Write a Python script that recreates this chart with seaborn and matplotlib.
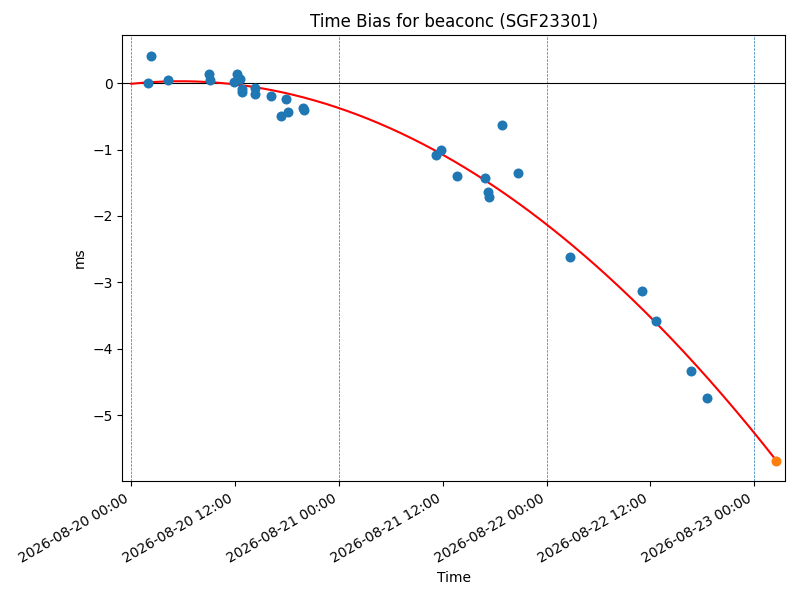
import numpy as np
import pandas as pd
import matplotlib
matplotlib.use("Agg")
import matplotlib.pyplot as plt
import matplotlib.dates as mdates
import seaborn as sns

start = "2026-08-20 00:00"
hours = [1.93, 2.28, 4.24, 8.98, 9.09, 11.86, 12.25, 12.53, 12.76, 12.83,
         14.29, 14.33, 16.18, 17.30, 17.88, 18.14, 19.84, 19.96,
         35.21, 35.79, 37.64, 40.87, 41.22, 41.33, 42.84, 44.69,
         50.70, 59.02, 60.64, 64.68, 66.53]
bias_ms = [0.0, 0.41, 0.05, 0.14, 0.05, 0.015, 0.14, 0.065, -0.086, -0.136,
           -0.066, -0.157, -0.187, -0.488, -0.241, -0.437, -0.38, -0.40,
           -1.08, -1.005, -1.395, -1.426, -1.64, -1.71, -0.63, -1.35,
           -2.62, -3.13, -3.58, -4.33, -4.74]
pred_hours = [74.50]
pred_ms = [-5.69]
day_lines = ["2026-08-20", "2026-08-21", "2026-08-22", "2026-08-23"]

t0 = pd.Timestamp(start)
df = pd.DataFrame({"time": t0 + pd.to_timedelta(hours, unit="h"), "ms": bias_ms})
dfp = pd.DataFrame({"time": t0 + pd.to_timedelta(pred_hours, unit="h"), "ms": pred_ms})

coef = np.polyfit(hours, bias_ms, 2)
fit_h = np.linspace(0, pred_hours[0], 300)
fit_df = pd.DataFrame({"time": t0 + pd.to_timedelta(fit_h, unit="h"),
                       "ms": np.polyval(coef, fit_h)})

fig, ax = plt.subplots(figsize=(8, 6), dpi=100)
for d in day_lines:
    ax.axvline(pd.Timestamp(d), color="C0", linestyle="--", linewidth=0.5)
ax.axhline(0, color="black", linewidth=0.8)
sns.lineplot(data=fit_df, x="time", y="ms", color="red", linewidth=1.5, ax=ax)
sns.scatterplot(data=df, x="time", y="ms", color="C0", s=52, linewidth=0, ax=ax, zorder=3)
sns.scatterplot(data=dfp, x="time", y="ms", color="C1", s=52, linewidth=0, ax=ax, zorder=3)

ax.set_xlim(t0 - pd.Timedelta(hours=1.04), t0 + pd.Timedelta(hours=75.58))
ax.set_ylim(-5.995, 0.725)
ax.xaxis.set_major_locator(mdates.HourLocator(byhour=[0, 12]))
ax.xaxis.set_major_formatter(mdates.DateFormatter("%Y-%m-%d %H:%M"))
ax.set_title("Time Bias for beaconc (SGF23301)")
ax.set_xlabel("Time")
ax.set_ylabel("ms")
fig.autofmt_xdate()
fig.subplots_adjust(left=122.3 / 800, right=785.3 / 800,
                    top=1 - 35.0 / 600, bottom=1 - 481.3 / 600)
fig.savefig("out.png", dpi=100)
